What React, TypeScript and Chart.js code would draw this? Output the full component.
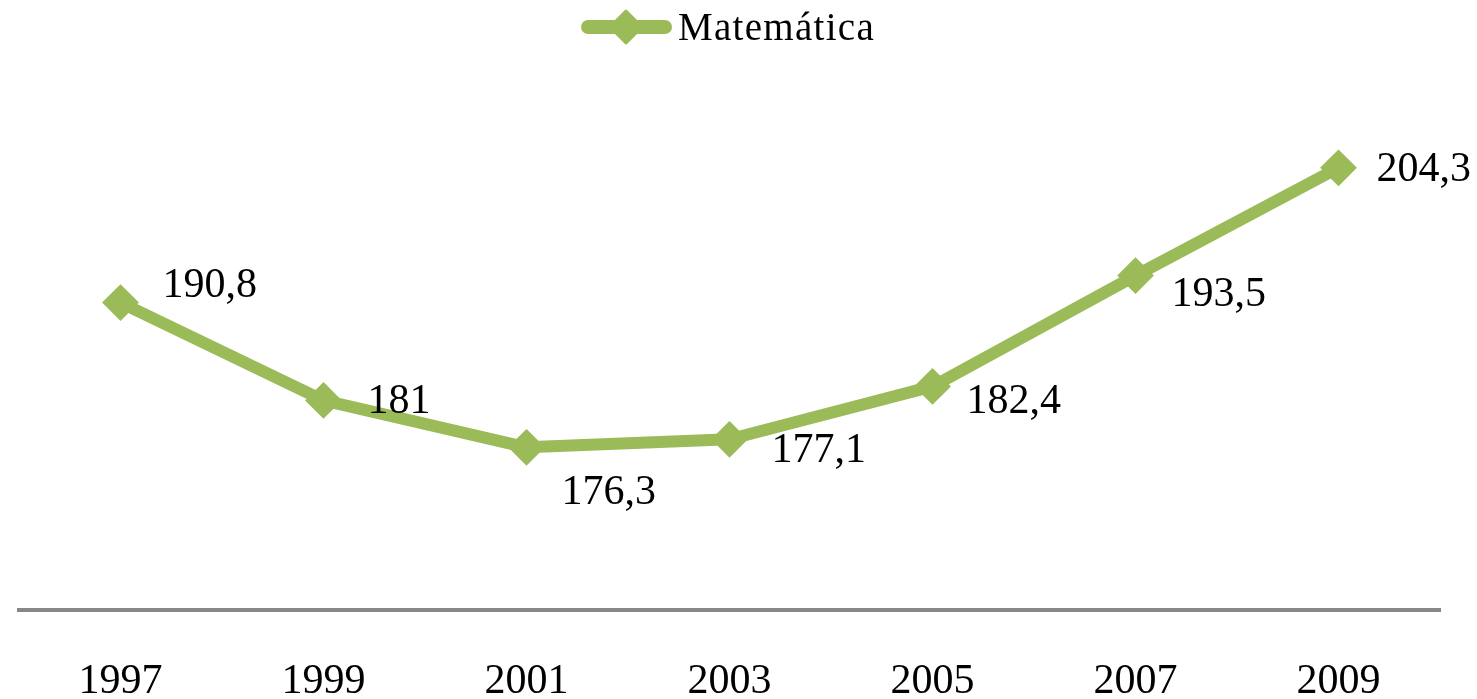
import React, { useEffect, useRef } from 'react';
import { Chart, registerables } from 'chart.js';

Chart.register(...registerables);

const years = ['1997', '1999', '2001', '2003', '2005', '2007', '2009'];
const matematica = [190.8, 181, 176.3, 177.1, 182.4, 193.5, 204.3];
const valueLabels = ['190,8', '181', '176,3', '177,1', '182,4', '193,5', '204,3'];
const seriesName = 'Matemática';

// label placement (style): [dx to text left, dy to text middle]
const labelOffsets = [
  [42, -17],
  [44, 2],
  [35, 46],
  [42, 12],
  [34, 16],
  [36, 19],
  [38, 2],
];

const GREEN = '#9BBB59';
const SERIF = '"Liberation Serif", "Times New Roman", Times, serif';

const dataLabelPlugin = {
  id: 'dataLabelPlugin',
  afterDatasetsDraw(chart: any) {
    const meta = chart.getDatasetMeta(0);
    const ctx = chart.ctx;
    ctx.save();
    ctx.font = `42px ${SERIF}`;
    ctx.fillStyle = '#000';
    ctx.textAlign = 'left';
    ctx.textBaseline = 'middle';
    meta.data.forEach((pt: any, i: number) => {
      const [dx, dy] = labelOffsets[i];
      ctx.fillText(valueLabels[i], pt.x + dx, pt.y + dy);
    });
    ctx.restore();
  },
};

const legendPlugin = {
  id: 'customLegend',
  afterDraw(chart: any) {
    const ctx = chart.ctx;
    ctx.save();
    const y = 27;
    ctx.strokeStyle = GREEN;
    ctx.lineWidth = 14;
    ctx.lineCap = 'round';
    ctx.beginPath();
    ctx.moveTo(588, y);
    ctx.lineTo(665, y);
    ctx.stroke();
    ctx.fillStyle = GREEN;
    ctx.lineJoin = 'round';
    ctx.lineWidth = 3;
    ctx.beginPath();
    const cx = 626, r = 16;
    ctx.moveTo(cx - r, y);
    ctx.lineTo(cx, y - r);
    ctx.lineTo(cx + r, y);
    ctx.lineTo(cx, y + r);
    ctx.closePath();
    ctx.fill();
    ctx.stroke();
    ctx.fillStyle = '#000';
    ctx.font = `39px ${SERIF}`;
    ctx.textAlign = 'left';
    ctx.textBaseline = 'alphabetic';
    try { (ctx as any).letterSpacing = '1.3px'; } catch (e) {}
    ctx.fillText(seriesName, 678, 40);
    ctx.restore();
  },
};

export default function App() {
  const ref = useRef<HTMLCanvasElement | null>(null);
  useEffect(() => {
    if (!ref.current) return;
    const chart = new Chart(ref.current, {
      type: 'line',
      data: {
        labels: years,
        datasets: [
          {
            label: seriesName,
            data: matematica,
            borderColor: GREEN,
            backgroundColor: GREEN,
            borderWidth: 12,
            borderJoinStyle: 'round',
            borderCapStyle: 'round',
            pointStyle: 'rectRot',
            pointRadius: 17,
            pointBorderWidth: 2,
            pointBackgroundColor: GREEN,
            pointBorderColor: GREEN,
            tension: 0,
          },
        ],
      },
      options: {
        animation: false,
        responsive: true,
        maintainAspectRatio: false,
        layout: { padding: { top: 61, left: 17, right: 37, bottom: 0 } },
        plugins: {
          legend: { display: false },
          tooltip: { enabled: false },
        },
        scales: {
          x: {
            type: 'category',
            offset: true,
            grid: { display: false, drawTicks: false },
            border: { display: true, color: '#878787', width: 4 },
            ticks: {
              color: '#000',
              font: { family: SERIF, size: 42 },
              padding: 47,
              maxRotation: 0,
              autoSkip: false,
            },
            afterFit(scale: any) {
              scale.height = 89;
            },
          },
          y: {
            display: false,
            min: 160,
            max: 215,
          },
        },
      },
      plugins: [dataLabelPlugin, legendPlugin],
    } as any);
    return () => chart.destroy();
  }, []);
  return (
    <div style={{ position: 'fixed', left: 0, top: 0, width: 1477, height: 699, background: '#fff' }}>
      <canvas ref={ref} />
    </div>
  );
}
